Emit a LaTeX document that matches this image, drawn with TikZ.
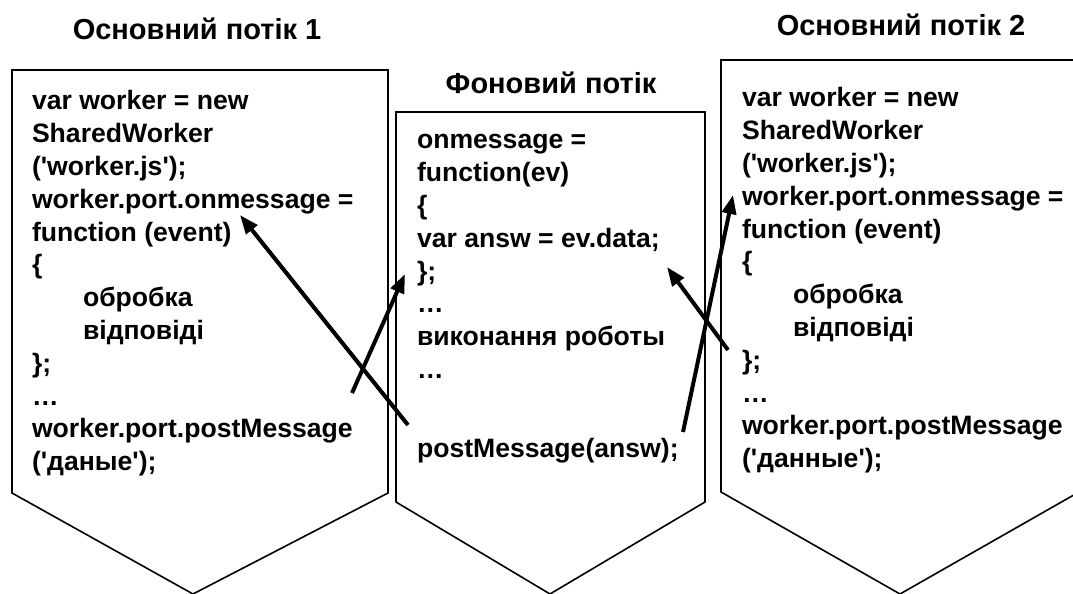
\documentclass[tikz,border=0pt]{standalone}
\usepackage{fontspec}
\setmainfont{Liberation Sans}[Ligatures=TeXOff]
\usetikzlibrary{arrows.meta}

\begin{document}
\begin{tikzpicture}[x=1pt,y=-1pt,font=\fontsize{26.6}{32.8}\selectfont\bfseries]
	\tikzstyle{every node}=[inner sep=0pt,outer sep=0pt,text=black]
	\tikzstyle{thread}=[line width=1.6pt,draw=black] % thread = one flow box
	\tikzstyle{code}=[anchor=north west,align=left]
	\tikzstyle{head}=[anchor=base,font=\fontsize{29}{34}\selectfont\bfseries]
	\tikzstyle{msg}=[-{Triangle[length=19pt,width=14pt]},line width=4pt] % msg = message arrow

	\useasboundingbox (0,0) rectangle (1073,594);

	% boxes
	\draw[thread] (12,493) -- (12,70) -- (388,70) -- (388,493) -- (193,594) -- cycle;
	\draw[thread] (396,502) -- (396,112) -- (705,112) -- (705,502) -- (550,594) -- cycle;
	\draw[thread] (721,492) -- (721,60) -- (1079,60) -- (1079,492) -- (900,594) -- cycle;

	% titles
	\node[head] (t1) at (197,40) {Основний потік 1};
	\node[head] (tb) at (551,93) {Фоновий потік};
	\node[head] (t2) at (901,36) {Основний потік 2};

	% code
	\node[code] (main1) at (32,87) {\strut var worker = new\\
		SharedWorker\\
		('worker.js');\\
		worker.port.onmessage =\\
		function (event)\\
		\{\\
		\hspace*{51pt}обробка\\
		\hspace*{51pt}відповіді\\
		\};\\
		…\\
		worker.port.postMessage\\
		('даные');};
	\node[code] (bg) at (417,126) {\strut onmessage =\\
		function(ev)\\
		\{\\
		var answ = ev.data;\\
		\};\\
		…\\
		виконання роботы\\
		…\\[46.6pt]
		postMessage(answ);};
	\node[code] (main2) at (742,84) {\strut var worker = new\\
		SharedWorker\\
		('worker.js');\\
		worker.port.onmessage =\\
		function (event)\\
		\{\\
		\hspace*{51pt}обробка\\
		\hspace*{51pt}відповіді\\
		\};\\
		…\\
		worker.port.postMessage\\
		('данные');};

	% arrow ends
	\coordinate (onmsg1) at (240,215);
	\coordinate (post1) at (352,393);
	\coordinate (close-bg) at (405,274);
	\coordinate (data-bg) at (667,267);
	\coordinate (post-bg-l) at (408,425);
	\coordinate (post-bg-r) at (683,432);
	\coordinate (onmsg2) at (733,195);
	\coordinate (close2) at (728,350);

	\draw[msg] (post-bg-l) -- (onmsg1);
	\draw[msg] (post1) -- (close-bg);
	\draw[msg] (post-bg-r) -- (onmsg2);
	\draw[msg] (close2) -- (data-bg);
\end{tikzpicture}
\end{document}
